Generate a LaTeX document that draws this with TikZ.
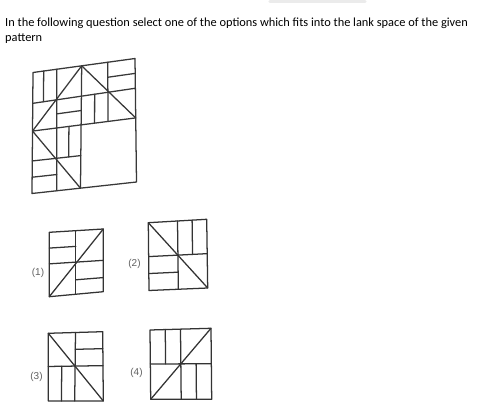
\documentclass[tikz,border=0pt]{standalone}
\usepackage{fontspec}
\setmainfont{Carlito}
\newfontfamily\labfont{Liberation Sans}
\usetikzlibrary{calc}
\newsavebox\qbox
\begin{document}
\sbox\qbox{\fontsize{10pt}{12pt}\selectfont In the following question select one of the options which fits into the lank space of the given}%
\pgfmathsetmacro\qscale{347/\the\wd\qbox}%
\begin{tikzpicture}[x=0.75pt,y=-0.75pt,
  fig/.style={line width=0.95pt,draw=black!78,line cap=round,line join=round},
  opt/.style={line width=0.95pt,draw=black!80,line cap=round,line join=round},
  lab/.style={font=\labfont\fontsize{7.5pt}{9pt}\selectfont,text=black!62,inner sep=0pt}]
\useasboundingbox[fill=white] (0,0) rectangle (480,410);
% faint scan shadow
\draw[line width=2.5pt,black!8,line cap=round] (270,1.5) -- (365,1.5);
% question text
\node[anchor=base west,inner sep=0pt,scale=\qscale,font=\fontsize{10pt}{12pt}\selectfont] (q1) at (5,26.7) {In the following question select one of the options which fits into the lank space of the given};
\node[anchor=base west,inner sep=0pt,scale=\qscale,font=\fontsize{10pt}{12pt}\selectfont] (q2) at (5,41.7) {pattern};
% ---------- main pattern ----------
\coordinate (ct0) at (33,72.5);   \coordinate (cb0) at (32,193.5);
\coordinate (ct1) at (56.7,69.2); \coordinate (cb1) at (56.7,190.5);
\coordinate (ct2) at (81.7,66.5); \coordinate (cb2) at (80.5,187.5);
\coordinate (ct3) at (107.7,62.3);\coordinate (cb3) at (108.5,185);
\coordinate (ct4) at (135,58.5);  \coordinate (cb4) at (136.5,182);
\coordinate (rl0) at (33,72.5);   \coordinate (rr0) at (135,58.5);
\coordinate (rl1) at (33,103.3);  \coordinate (rr1) at (135,88.3);
\coordinate (rl2) at (33,131);    \coordinate (rr2) at (135,118);
\coordinate (rl3) at (32,161);    \coordinate (rr3) at (136,149.5);
\coordinate (rl4) at (32,193.5);  \coordinate (rr4) at (136.5,182);
\foreach \i in {0,...,4}{
  \foreach \j in {0,...,4}{
    \coordinate (g\i\j) at (intersection cs:first line={(ct\i)--(cb\i)},second line={(rl\j)--(rr\j)});
  }
}
\draw[fig] (g00) -- (g40) -- (g44) -- (g04) -- cycle;
\draw[fig] (g10) -- (g14);
\draw[fig] (g20) -- (g24);
\draw[fig] (g30) -- (g32);
\draw[fig] (g01) -- (g41);
\draw[fig] (g02) -- (g42);
\draw[fig] (g03) -- (g23);
\draw[fig] (g02) -- (g20) -- (g42);
\draw[fig] (g02) -- (g24);
\draw[fig] ($(g00)!0.45!(g10)$) -- ($(g01)!0.45!(g11)$);
\draw[fig] ($(g11)!0.5!(g12)$) -- ($(g21)!0.5!(g22)$);
\draw[fig] ($(g30)!0.5!(g31)$) -- ($(g40)!0.5!(g41)$);
\draw[fig] ($(g21)!0.5!(g31)$) -- ($(g22)!0.5!(g32)$);
\draw[fig] ($(g12)!0.5!(g22)$) -- ($(g13)!0.5!(g23)$);
\draw[fig] ($(g03)!0.5!(g04)$) -- ($(g13)!0.5!(g14)$);
% ---------- option 1 ----------
\coordinate (pa) at (49.3,232.3); \coordinate (pb) at (103.3,229);
\coordinate (pc) at (103.3,291.7); \coordinate (pd) at (49.3,296.7);
\coordinate (pt) at ($(pa)!0.49!(pb)$); \coordinate (pm) at ($(pd)!0.49!(pc)$);
\coordinate (pl) at ($(pa)!0.49!(pd)$); \coordinate (pr) at ($(pb)!0.5!(pc)$);
\coordinate (po) at (intersection cs:first line={(pt)--(pm)},second line={(pl)--(pr)});
\draw[opt] (pa) -- (pb) -- (pc) -- (pd) -- cycle;
\draw[opt] (pt) -- (pm);
\draw[opt] (pl) -- (pr);
\draw[opt] (pd) -- (pb);
\draw[opt] ($(pa)!0.5!(pl)$) -- ($(pt)!0.5!(po)$);
\draw[opt] ($(po)!0.55!(pm)$) -- ($(pr)!0.55!(pc)$);
\node[lab] (l1) at (38,273) {(1)};
% ---------- option 2 ----------
\coordinate (qa) at (148.3,222.7); \coordinate (qb) at (206.7,219.3);
\coordinate (qc) at (207.7,288); \coordinate (qd) at (149,290.5);
\coordinate (qt) at ($(qa)!0.5!(qb)$); \coordinate (qm) at ($(qd)!0.5!(qc)$);
\coordinate (ql) at ($(qa)!0.5!(qd)$); \coordinate (qr) at ($(qb)!0.5!(qc)$);
\coordinate (qo) at (intersection cs:first line={(qt)--(qm)},second line={(ql)--(qr)});
\draw[opt] (qa) -- (qb) -- (qc) -- (qd) -- cycle;
\draw[opt] (qt) -- (qm);
\draw[opt] (ql) -- (qr);
\draw[opt] (qa) -- (qc);
\draw[opt] ($(qt)!0.5!(qb)$) -- ($(qo)!0.5!(qr)$);
\draw[opt] ($(ql)!0.5!(qd)$) -- ($(qo)!0.5!(qm)$);
\node[lab] (l2) at (134.5,264) {(2)};
% ---------- option 3 ----------
\coordinate (ra) at (48.3,333.3); \coordinate (rb) at (102.7,331.7);
\coordinate (rc) at (103.3,401); \coordinate (rd) at (48.3,401);
\coordinate (rt) at ($(ra)!0.5!(rb)$); \coordinate (rm) at ($(rd)!0.48!(rc)$);
\coordinate (rl) at ($(ra)!0.49!(rd)$); \coordinate (rr) at ($(rb)!0.49!(rc)$);
\coordinate (ro) at (intersection cs:first line={(rt)--(rm)},second line={(rl)--(rr)});
\draw[opt] (ra) -- (rb) -- (rc) -- (rd) -- cycle;
\draw[opt] (rt) -- (rm);
\draw[opt] (rl) -- (rr);
\draw[opt] (ra) -- (rc);
\draw[opt] ($(rt)!0.5!(ro)$) -- ($(rb)!0.5!(rr)$);
\draw[opt] ($(rl)!0.5!(ro)$) -- ($(rd)!0.5!(rm)$);
\node[lab] (l3) at (36.5,377) {(3)};
% ---------- option 4 ----------
\coordinate (sa) at (150,330); \coordinate (sb) at (211,328.3);
\coordinate (sc) at (211.7,399.3); \coordinate (sd) at (150.7,399.3);
\coordinate (st) at ($(sa)!0.5!(sb)$); \coordinate (sm) at ($(sd)!0.5!(sc)$);
\coordinate (sl) at ($(sa)!0.49!(sd)$); \coordinate (sr) at ($(sb)!0.5!(sc)$);
\coordinate (so) at (intersection cs:first line={(st)--(sm)},second line={(sl)--(sr)});
\draw[opt] (sa) -- (sb) -- (sc) -- (sd) -- cycle;
\draw[opt] (st) -- (sm);
\draw[opt] (sl) -- (sr);
\draw[opt] (sd) -- (sb);
\draw[opt] ($(sa)!0.5!(st)$) -- ($(sl)!0.5!(so)$);
\draw[opt] ($(so)!0.5!(sr)$) -- ($(sm)!0.5!(sc)$);
\node[lab] (l4) at (136.5,373) {(4)};
\end{tikzpicture}
\end{document}
